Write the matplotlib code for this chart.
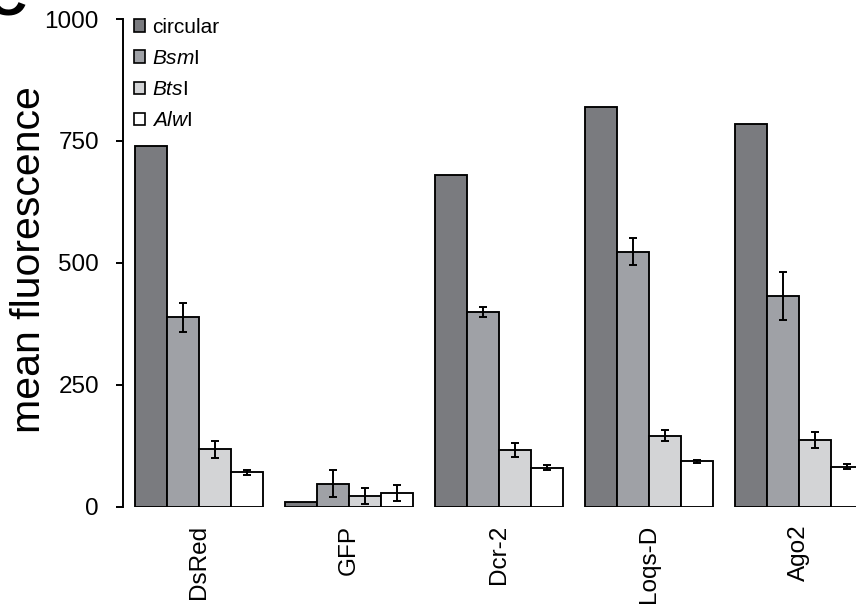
import matplotlib
matplotlib.use("Agg")
import matplotlib.pyplot as plt
import numpy as np

plt.rcParams['font.family'] = ['Liberation Sans', 'DejaVu Sans']
plt.rcParams['mathtext.fontset'] = 'custom'
plt.rcParams['mathtext.rm'] = 'Liberation Sans'
plt.rcParams['mathtext.it'] = 'Liberation Sans:italic'

categories = ["DsRed", "GFP", "Dcr-2", "Loqs-D", "Ago2"]
series_names = ["circular", r"$\mathit{Bsm}$I", r"$\mathit{Bts}$I", r"$\mathit{Alw}$I"]
circular = [740, 10, 680, 820, 785]
bsmi = [388, 47, 399, 523, 432]
btsi = [117, 22, 116, 145, 136]
alwi = [70, 28, 80, 93, 82]
bsmi_err = [30, 27, 11, 28, 50]
btsi_err = [17, 16, 15, 11, 16]
alwi_err = [5, 17, 6, 3, 6]
yticks = [0, 250, 500, 750, 1000]

values = [circular, bsmi, btsi, alwi]
errors = [None, bsmi_err, btsi_err, alwi_err]
colors = ["#7a7b7f", "#9fa1a6", "#d3d4d6", "#ffffff"]

W, H = 856, 607
fig = plt.figure(figsize=(W / 100, H / 100), dpi=100)
left_px, right_px = 122.5, 873.5
bot_px, top_px = 506.5, 19
ax = fig.add_axes([left_px / W, 1 - bot_px / H, (right_px - left_px) / W, (bot_px - top_px) / H])

x = np.arange(len(categories))
bw = 32 / 150
for i, (vals, errs, col, name) in enumerate(zip(values, errors, colors, series_names)):
    pos = x + (i - 1.5) * bw
    ax.bar(pos, vals, width=bw, color=col, edgecolor="black", linewidth=1.35, label=name, zorder=2)
    if errs is not None:
        ax.errorbar(pos, vals, yerr=errs, fmt="none", ecolor="black", elinewidth=1.4,
                    capsize=3, capthick=1.4, zorder=3)

ax.set_xlim(-0.507, 4.5)
ax.set_ylim(0, 1000)
ax.set_yticks(yticks)
ax.set_yticklabels([str(t) for t in yticks], fontsize=17.5)
ax.set_xticks(x)
ax.set_xticklabels(categories, rotation=90, fontsize=17.5)
ax.tick_params(axis="x", length=0, pad=13)
ax.tick_params(axis="y", length=5, width=1.4, pad=12, direction="out")
for s in ["top", "right", "bottom"]:
    ax.spines[s].set_visible(False)
ax.spines["left"].set_linewidth(1.4)

fig.text(29 / W, 1 - 260 / H, "mean fluorescence", rotation=90, ha="center", va="center",
         fontsize=29.5)

leg = ax.legend(loc="upper left", bbox_to_anchor=(134 / W, 1 - 18 / H), bbox_transform=fig.transFigure,
                frameon=False, fontsize=15, handlelength=0.55, handleheight=0.55,
                handletextpad=0.3, labelspacing=0.58, borderpad=0, borderaxespad=0)
for h in leg.legend_handles:
    h.set_linewidth(1.2)

fig.text(27 / W, 1 - 16 / H, "C", ha="right", va="baseline", fontsize=40, fontweight="bold")

fig.savefig("out.png", dpi=100)
